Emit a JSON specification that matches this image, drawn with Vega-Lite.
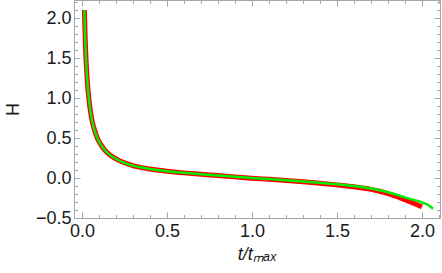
{
  "$schema": "https://vega.github.io/schema/vega-lite/v6.json",
  "width": 366,
  "height": 218,
  "autosize": {"type": "none"},
  "padding": {"left": 74, "top": 0, "right": 2, "bottom": 55},
  "background": "white",
  "config": {
    "view": {"stroke": null},
    "axis": {
      "labelFont": "Liberation Sans",
      "titleFont": "Liberation Sans",
      "labelFontSize": 18,
      "titleFontSize": 18,
      "labelColor": "#1a1a1a",
      "titleColor": "#1a1a1a",
      "domainColor": "#a6a6a6",
      "tickColor": "#a6a6a6",
      "grid": false,
      "titleFontWeight": "normal"
    }
  },
  "datasets": {
    "curves": [
      {"series": "red", "t": 0.014, "H": 2.1},
      {"series": "red", "t": 0.02, "H": 1.67},
      {"series": "red", "t": 0.03, "H": 1.25},
      {"series": "red", "t": 0.04, "H": 1.0},
      {"series": "red", "t": 0.05, "H": 0.83},
      {"series": "red", "t": 0.06, "H": 0.71},
      {"series": "red", "t": 0.075, "H": 0.59},
      {"series": "red", "t": 0.09, "H": 0.5},
      {"series": "red", "t": 0.11, "H": 0.42},
      {"series": "red", "t": 0.13, "H": 0.36},
      {"series": "red", "t": 0.16, "H": 0.295},
      {"series": "red", "t": 0.2, "H": 0.24},
      {"series": "red", "t": 0.25, "H": 0.19},
      {"series": "red", "t": 0.3, "H": 0.155},
      {"series": "red", "t": 0.35, "H": 0.13},
      {"series": "red", "t": 0.4, "H": 0.112},
      {"series": "red", "t": 0.5, "H": 0.085},
      {"series": "red", "t": 0.6, "H": 0.064},
      {"series": "red", "t": 0.7, "H": 0.046},
      {"series": "red", "t": 0.8, "H": 0.03},
      {"series": "red", "t": 0.9, "H": 0.014},
      {"series": "red", "t": 1.0, "H": -0.002},
      {"series": "red", "t": 1.1, "H": -0.017},
      {"series": "red", "t": 1.2, "H": -0.032},
      {"series": "red", "t": 1.3, "H": -0.048},
      {"series": "red", "t": 1.4, "H": -0.066},
      {"series": "red", "t": 1.5, "H": -0.086},
      {"series": "red", "t": 1.6, "H": -0.11},
      {"series": "red", "t": 1.7, "H": -0.142},
      {"series": "red", "t": 1.75, "H": -0.165},
      {"series": "red", "t": 1.8, "H": -0.194},
      {"series": "red", "t": 1.85, "H": -0.23},
      {"series": "red", "t": 1.9, "H": -0.272},
      {"series": "red", "t": 1.95, "H": -0.315},
      {"series": "red", "t": 2.0, "H": -0.36},
      {"series": "green", "t": 0.014, "H": 2.1},
      {"series": "green", "t": 0.02, "H": 1.67},
      {"series": "green", "t": 0.03, "H": 1.25},
      {"series": "green", "t": 0.04, "H": 1.0},
      {"series": "green", "t": 0.05, "H": 0.83},
      {"series": "green", "t": 0.06, "H": 0.71},
      {"series": "green", "t": 0.075, "H": 0.59},
      {"series": "green", "t": 0.09, "H": 0.5},
      {"series": "green", "t": 0.11, "H": 0.42},
      {"series": "green", "t": 0.13, "H": 0.36},
      {"series": "green", "t": 0.16, "H": 0.295},
      {"series": "green", "t": 0.2, "H": 0.24},
      {"series": "green", "t": 0.25, "H": 0.19},
      {"series": "green", "t": 0.3, "H": 0.155},
      {"series": "green", "t": 0.35, "H": 0.13},
      {"series": "green", "t": 0.4, "H": 0.112},
      {"series": "green", "t": 0.5, "H": 0.085},
      {"series": "green", "t": 0.6, "H": 0.065},
      {"series": "green", "t": 0.7, "H": 0.047},
      {"series": "green", "t": 0.8, "H": 0.031},
      {"series": "green", "t": 0.9, "H": 0.016},
      {"series": "green", "t": 1.0, "H": 0.0},
      {"series": "green", "t": 1.1, "H": -0.014},
      {"series": "green", "t": 1.2, "H": -0.028},
      {"series": "green", "t": 1.3, "H": -0.043},
      {"series": "green", "t": 1.4, "H": -0.06},
      {"series": "green", "t": 1.5, "H": -0.078},
      {"series": "green", "t": 1.6, "H": -0.1},
      {"series": "green", "t": 1.7, "H": -0.13},
      {"series": "green", "t": 1.75, "H": -0.152},
      {"series": "green", "t": 1.8, "H": -0.178},
      {"series": "green", "t": 1.85, "H": -0.208},
      {"series": "green", "t": 1.9, "H": -0.242},
      {"series": "green", "t": 1.95, "H": -0.272},
      {"series": "green", "t": 2.0, "H": -0.305},
      {"series": "green", "t": 2.04, "H": -0.343},
      {"series": "green", "t": 2.065, "H": -0.385}
    ]
  },
  "data": {"name": "curves"},
  "layer": [
    {
      "transform": [{"filter": "datum.series === 'red'"}],
      "mark": {"type": "line", "color": "#ff0000", "strokeWidth": 5, "interpolate": "monotone", "strokeCap": "butt"},
      "encoding": {
        "x": {
          "field": "t", "type": "quantitative",
          "scale": {"domain": [-0.047, 2.106], "nice": false, "zero": false},
          "axis": {"orient": "bottom", "values": [0, 0.5, 1, 1.5, 2], "format": ".1f", "tickSize": -6, "labelPadding": 10, "title": "t/tₘₐₓ", "titleFontStyle": "italic", "titlePadding": 5}
        },
        "y": {
          "field": "H", "type": "quantitative",
          "scale": {"domain": [-0.5, 2.225], "nice": false, "zero": false},
          "axis": {"orient": "left", "values": [-0.5, 0, 0.5, 1, 1.5, 2], "format": ".1f", "tickSize": -6, "labelPadding": 9, "title": "H", "titlePadding": 13}
        }
      }
    },
    {
      "transform": [{"filter": "datum.series === 'green'"}],
      "mark": {"type": "line", "color": "#00ee00", "strokeWidth": 2.5, "interpolate": "monotone"},
      "encoding": {
        "x": {
          "field": "t", "type": "quantitative",
          "axis": {"orient": "bottom", "values": [0.1, 0.2, 0.3, 0.4, 0.6, 0.7, 0.8, 0.9, 1.1, 1.2, 1.3, 1.4, 1.6, 1.7, 1.8, 1.9, 2.1], "labels": false, "domain": false, "tickSize": -3.5, "title": null}
        },
        "y": {
          "field": "H", "type": "quantitative",
          "axis": {"orient": "left", "values": [-0.4, -0.3, -0.2, -0.1, 0.1, 0.2, 0.3, 0.4, 0.6, 0.7, 0.8, 0.9, 1.1, 1.2, 1.3, 1.4, 1.6, 1.7, 1.8, 1.9, 2.1, 2.2], "labels": false, "domain": false, "tickSize": -3.5, "title": null}
        }
      }
    },
    {
      "transform": [{"filter": "datum.series === 'green'"}],
      "mark": {"type": "line", "opacity": 0},
      "encoding": {
        "x": {
          "field": "t", "type": "quantitative",
          "axis": {"orient": "top", "values": [0, 0.5, 1, 1.5, 2], "labels": false, "tickSize": -6, "title": null}
        },
        "y": {
          "field": "H", "type": "quantitative",
          "axis": {"orient": "right", "values": [-0.5, 0, 0.5, 1, 1.5, 2], "labels": false, "tickSize": -6, "title": null}
        }
      }
    },
    {
      "transform": [{"filter": "datum.series === 'green'"}],
      "mark": {"type": "line", "opacity": 0},
      "encoding": {
        "x": {
          "field": "t", "type": "quantitative",
          "axis": {"orient": "top", "values": [0.1, 0.2, 0.3, 0.4, 0.6, 0.7, 0.8, 0.9, 1.1, 1.2, 1.3, 1.4, 1.6, 1.7, 1.8, 1.9, 2.1], "labels": false, "domain": false, "tickSize": -3.5, "title": null}
        },
        "y": {
          "field": "H", "type": "quantitative",
          "axis": {"orient": "right", "values": [-0.4, -0.3, -0.2, -0.1, 0.1, 0.2, 0.3, 0.4, 0.6, 0.7, 0.8, 0.9, 1.1, 1.2, 1.3, 1.4, 1.6, 1.7, 1.8, 1.9, 2.1, 2.2], "labels": false, "domain": false, "tickSize": -3.5, "title": null}
        }
      }
    }
  ],
  "resolve": {"axis": {"x": "independent", "y": "independent"}}
}
